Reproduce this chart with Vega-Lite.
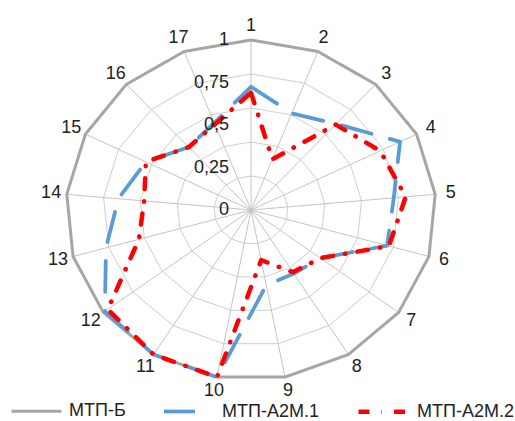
{
  "$schema": "https://vega.github.io/schema/vega-lite/v6.json",
  "width": 370,
  "height": 340,
  "autosize": {"type": "none"},
  "padding": {"left": 66, "top": 40, "right": 79, "bottom": 41},
  "config": {"view": {"stroke": null}, "font": "Liberation Sans"},
  "datasets": {
    "series": [
      {"series": "МТП-Б", "axis": 1, "value": 1}, {"series": "МТП-Б", "axis": 2, "value": 1}, {"series": "МТП-Б", "axis": 3, "value": 1}, {"series": "МТП-Б", "axis": 4, "value": 1}, {"series": "МТП-Б", "axis": 5, "value": 1}, {"series": "МТП-Б", "axis": 6, "value": 1}, {"series": "МТП-Б", "axis": 7, "value": 1}, {"series": "МТП-Б", "axis": 8, "value": 1}, {"series": "МТП-Б", "axis": 9, "value": 1}, {"series": "МТП-Б", "axis": 10, "value": 1}, {"series": "МТП-Б", "axis": 11, "value": 1}, {"series": "МТП-Б", "axis": 12, "value": 1}, {"series": "МТП-Б", "axis": 13, "value": 1}, {"series": "МТП-Б", "axis": 14, "value": 1}, {"series": "МТП-Б", "axis": 15, "value": 1}, {"series": "МТП-Б", "axis": 16, "value": 1}, {"series": "МТП-Б", "axis": 17, "value": 1},
      {"series": "МТП-А2М.1", "axis": 1, "value": 0.725}, {"series": "МТП-А2М.1", "axis": 2, "value": 0.61}, {"series": "МТП-А2М.1", "axis": 3, "value": 0.685}, {"series": "МТП-А2М.1", "axis": 4, "value": 0.9}, {"series": "МТП-А2М.1", "axis": 5, "value": 0.775}, {"series": "МТП-А2М.1", "axis": 6, "value": 0.765}, {"series": "МТП-А2М.1", "axis": 7, "value": 0.47}, {"series": "МТП-А2М.1", "axis": 8, "value": 0.44}, {"series": "МТП-А2М.1", "axis": 9, "value": 0.45}, {"series": "МТП-А2М.1", "axis": 10, "value": 1}, {"series": "МТП-А2М.1", "axis": 11, "value": 1}, {"series": "МТП-А2М.1", "axis": 12, "value": 0.99}, {"series": "МТП-А2М.1", "axis": 13, "value": 0.815}, {"series": "МТП-А2М.1", "axis": 14, "value": 0.72}, {"series": "МТП-А2М.1", "axis": 15, "value": 0.635}, {"series": "МТП-А2М.1", "axis": 16, "value": 0.5}, {"series": "МТП-А2М.1", "axis": 17, "value": 0.55},
      {"series": "МТП-А2М.2", "axis": 1, "value": 0.69}, {"series": "МТП-А2М.2", "axis": 2, "value": 0.32}, {"series": "МТП-А2М.2", "axis": 3, "value": 0.68}, {"series": "МТП-А2М.2", "axis": 4, "value": 0.78}, {"series": "МТП-А2М.2", "axis": 5, "value": 0.84}, {"series": "МТП-А2М.2", "axis": 6, "value": 0.775}, {"series": "МТП-А2М.2", "axis": 7, "value": 0.47}, {"series": "МТП-А2М.2", "axis": 8, "value": 0.43}, {"series": "МТП-А2М.2", "axis": 9, "value": 0.3}, {"series": "МТП-А2М.2", "axis": 10, "value": 1}, {"series": "МТП-А2М.2", "axis": 11, "value": 1}, {"series": "МТП-А2М.2", "axis": 12, "value": 0.97}, {"series": "МТП-А2М.2", "axis": 13, "value": 0.63}, {"series": "МТП-А2М.2", "axis": 14, "value": 0.58}, {"series": "МТП-А2М.2", "axis": 15, "value": 0.635}, {"series": "МТП-А2М.2", "axis": 16, "value": 0.5}, {"series": "МТП-А2М.2", "axis": 17, "value": 0.54}
    ],
    "rings": [
      {"r": 0.2, "axis": [1,2,3,4,5,6,7,8,9,10,11,12,13,14,15,16,17]},
      {"r": 0.4, "axis": [1,2,3,4,5,6,7,8,9,10,11,12,13,14,15,16,17]},
      {"r": 0.6, "axis": [1,2,3,4,5,6,7,8,9,10,11,12,13,14,15,16,17]},
      {"r": 0.8, "axis": [1,2,3,4,5,6,7,8,9,10,11,12,13,14,15,16,17]}
    ],
    "spokes": [
      {"axis": 1}, {"axis": 2}, {"axis": 3}, {"axis": 4}, {"axis": 5}, {"axis": 6}, {"axis": 7}, {"axis": 8}, {"axis": 9}, {"axis": 10}, {"axis": 11}, {"axis": 12}, {"axis": 13}, {"axis": 14}, {"axis": 15}, {"axis": 16}, {"axis": 17}
    ],
    "ticks": [
      {"v": 0, "label": "0"}, {"v": 0.25, "label": "0,25"}, {"v": 0.5, "label": "0,5"}, {"v": 0.75, "label": "0,75"}, {"v": 1, "label": "1"}
    ]
  },
  "layer": [
    {
      "data": {"name": "rings"},
      "transform": [
        {"flatten": ["axis"]},
        {"calculate": "(datum.axis - 1) * 2 * PI / 17", "as": "t"},
        {"calculate": "datum.r * sin(datum.t)", "as": "x"},
        {"calculate": "datum.r * cos(datum.t)", "as": "y"}
      ],
      "mark": {"type": "line", "interpolate": "linear-closed", "color": "#cfcfcf", "strokeWidth": 1},
      "encoding": {
        "x": {"field": "x", "type": "quantitative", "scale": {"domain": [-1, 1], "nice": false, "zero": false}, "axis": null},
        "y": {"field": "y", "type": "quantitative", "scale": {"domain": [-1, 1], "nice": false, "zero": false}, "axis": null},
        "detail": {"field": "r", "type": "nominal"},
        "order": {"field": "axis", "type": "quantitative"}
      }
    },
    {
      "data": {"name": "spokes"},
      "transform": [
        {"calculate": "(datum.axis - 1) * 2 * PI / 17", "as": "t"},
        {"calculate": "sin(datum.t)", "as": "x"},
        {"calculate": "cos(datum.t)", "as": "y"},
        {"calculate": "0", "as": "zero"}
      ],
      "mark": {"type": "rule", "color": "#c4c4c4", "strokeWidth": 1},
      "encoding": {
        "x": {"field": "zero", "type": "quantitative"},
        "y": {"field": "zero", "type": "quantitative"},
        "x2": {"field": "x"},
        "y2": {"field": "y"}
      }
    },
    {
      "data": {"name": "spokes"},
      "transform": [
        {"calculate": "(datum.axis - 1) * 2 * PI / 17", "as": "t"},
        {"calculate": "1.085 * sin(datum.t)", "as": "x"},
        {"calculate": "1.085 * cos(datum.t)", "as": "y"}
      ],
      "mark": {"type": "text", "fontSize": 18, "color": "#222222", "align": "center", "baseline": "middle"},
      "encoding": {
        "x": {"field": "x", "type": "quantitative"},
        "y": {"field": "y", "type": "quantitative"},
        "text": {"field": "axis", "type": "nominal"}
      }
    },
    {
      "data": {"name": "series"},
      "transform": [
        {"calculate": "(datum.axis - 1) * 2 * PI / 17", "as": "t"},
        {"calculate": "datum.value * sin(datum.t)", "as": "x"},
        {"calculate": "datum.value * cos(datum.t)", "as": "y"}
      ],
      "mark": {"type": "line", "interpolate": "linear-closed", "strokeCap": "round", "strokeJoin": "round"},
      "encoding": {
        "x": {"field": "x", "type": "quantitative"},
        "y": {"field": "y", "type": "quantitative"},
        "order": {"field": "axis", "type": "quantitative"},
        "color": {
          "field": "series", "type": "nominal",
          "scale": {"domain": ["МТП-Б", "МТП-А2М.1", "МТП-А2М.2"], "range": ["#a6a6a6", "#5b9bd5", "#ff0000"]},
          "legend": {
            "orient": "none", "legendX": -56, "legendY": 344, "direction": "horizontal", "title": null,
            "symbolType": "stroke", "symbolSize": 2500, "labelFontSize": 18, "labelFont": "Liberation Sans",
            "labelColor": "#222222", "columnPadding": 30, "labelOffset": 6
          }
        },
        "strokeDash": {
          "field": "series", "type": "nominal",
          "scale": {"domain": ["МТП-Б", "МТП-А2М.1", "МТП-А2М.2"], "range": [[1, 0], [31, 19], [11, 12, 0.5, 12]]}
        },
        "strokeWidth": {
          "field": "series", "type": "nominal",
          "scale": {"domain": ["МТП-Б", "МТП-А2М.1", "МТП-А2М.2"], "range": [3, 4.5, 3]}
        }
      }
    },
    {
      "data": {"name": "ticks"},
      "transform": [{"calculate": "0", "as": "zero"}],
      "mark": {"type": "text", "fontSize": 18, "color": "#222222", "align": "right", "baseline": "middle", "dx": -22},
      "encoding": {
        "x": {"field": "zero", "type": "quantitative"},
        "y": {"field": "v", "type": "quantitative"},
        "text": {"field": "label", "type": "nominal"}
      }
    }
  ]
}
